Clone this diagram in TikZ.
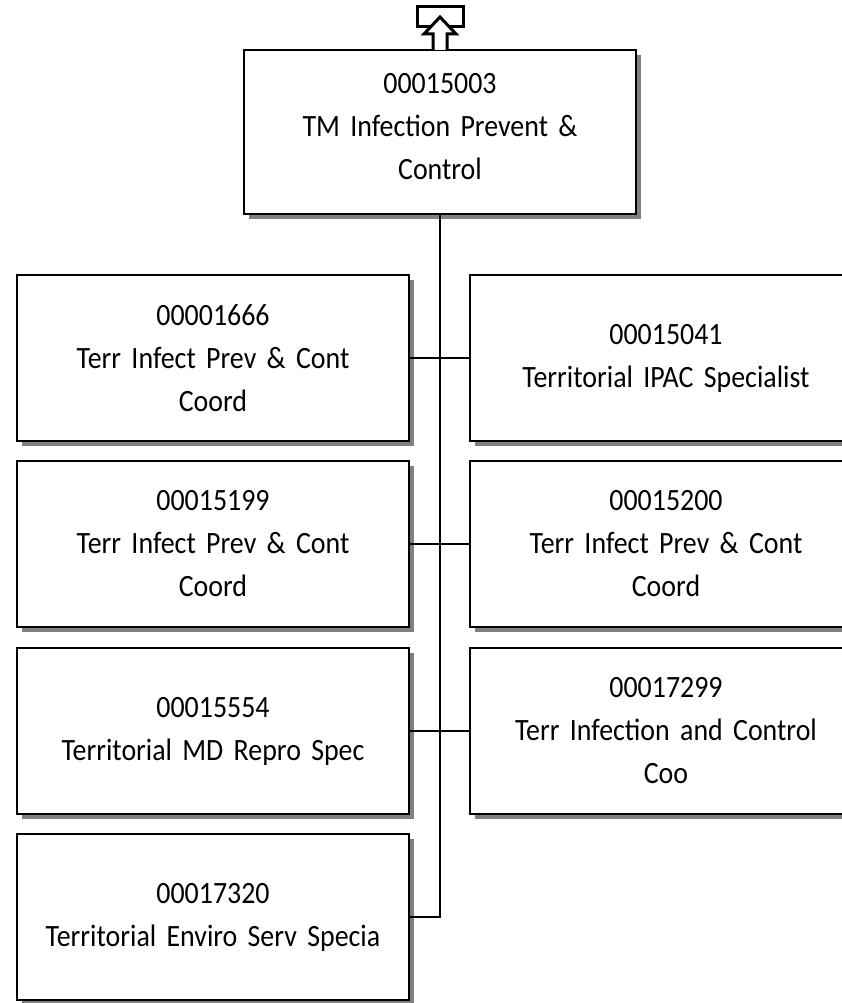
\documentclass[tikz,border=0pt]{standalone}
\usepackage{fontspec}
\setmainfont[FakeStretch=0.9]{Carlito}
\usetikzlibrary{shadows}
\begin{document}
\begin{tikzpicture}[x=1pt,y=-1pt,
  posbox/.style={draw=black,line width=2.6pt,fill=white,minimum width=392pt,minimum height=166pt,
    align=center,text width=385pt,inner sep=0pt,
    font=\fontsize{31}{43}\selectfont,
    drop shadow={shadow xshift=5pt,shadow yshift=-5pt,fill=black!50,opacity=1}},
  conn/.style={line width=2pt}]
\useasboundingbox (0,0) rectangle (842,1003);
\clip (0,0) rectangle (842,1003);
\node[posbox,minimum height=164pt] (top) at (440,132) {00015003\\TM Infection Prevent \&\\Control\\[-31pt]\mbox{}};
\node[posbox] (l1) at (213,358) {00001666\\Terr Infect Prev \& Cont\\Coord};
\node[posbox] (r1) at (666,358) {00015041\\Territorial IPAC Specialist};
\node[posbox] (l2) at (213,544) {00015199\\Terr Infect Prev \& Cont\\Coord};
\node[posbox] (r2) at (666,544) {00015200\\Terr Infect Prev \& Cont\\Coord};
\node[posbox] (l3) at (213,731) {00015554\\Territorial MD Repro Spec};
\node[posbox] (r3) at (666,731) {00017299\\Terr Infection and Control\\Coo};
\node[posbox] (l4) at (213,917) {00017320\\Territorial Enviro Serv Specia};
\draw[conn] (top.south) |- (l4.east);
\draw[conn] (l1.east) -- (r1.west);
\draw[conn] (l2.east) -- (r2.west);
\draw[conn] (l3.east) -- (r3.west);
\draw[line width=3pt,fill=white] (417,7) rectangle (463,27);
\draw[line width=3pt,fill=white,line join=miter]
  (433,50) -- (433,34) -- (424,34) -- (440,17) -- (456,34) -- (447,34) -- (447,50);
\end{tikzpicture}
\end{document}
